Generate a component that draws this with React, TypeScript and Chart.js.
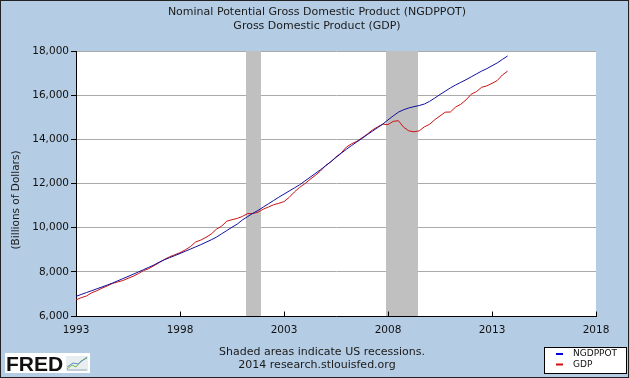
import { useEffect, useRef } from 'react';
import { Chart, registerables } from 'chart.js';

Chart.register(...registerables);

const START_YEAR = 1993;
const PERIODS_PER_YEAR = 4;

// Quarterly nominal GDP, billions of dollars, 1993Q1 .. 2013Q4
const GDP = [
  6730, 6830, 6905, 7050,
  7142, 7262, 7360, 7471,
  7543, 7604, 7706, 7800,
  7919, 8055, 8147, 8280,
  8413, 8564, 8681, 8776,
  8868, 8991, 9142, 9351,
  9438, 9562, 9711, 9931,
  10067, 10293, 10361, 10418,
  10508, 10638, 10639, 10701,
  10834, 10935, 11037, 11104,
  11180, 11371, 11617, 11824,
  11989, 12182, 12367, 12562,
  12813, 12974, 13205, 13382,
  13649, 13800, 13909, 14066,
  14234, 14423, 14565, 14686,
  14668, 14813, 14843, 14550,
  14384, 14340, 14384, 14566,
  14681, 14889, 15058, 15230,
  15238, 15461, 15587, 15785,
  16042, 16160, 16356, 16420,
  16535, 16661, 16913, 17090,
];

// Quarterly nominal potential GDP, billions of dollars, 1993Q1 .. 2013Q4
const NGDPPOT = [
  6890, 6975, 7060, 7145,
  7230, 7315, 7400, 7490,
  7590, 7690, 7790, 7890,
  7995, 8100, 8205, 8310,
  8440, 8545, 8640, 8735,
  8830, 8930, 9030, 9130,
  9230, 9340, 9450, 9570,
  9720, 9870, 10020, 10160,
  10350, 10500, 10650, 10780,
  10930, 11080, 11230, 11380,
  11520, 11660, 11800, 11940,
  12110, 12280, 12450, 12620,
  12800, 12990, 13180, 13370,
  13550, 13720, 13880, 14040,
  14210, 14370, 14530, 14690,
  14880, 15060, 15230, 15340,
  15420, 15480, 15530, 15600,
  15720, 15870, 16030, 16180,
  16330, 16460, 16580, 16700,
  16830, 16960, 17090, 17200,
  17330, 17460, 17620, 17775,
];

const X_TICKS = [1993, 1998, 2003, 2008, 2013, 2018];
const Y_TICKS = [6000, 8000, 10000, 12000, 14000, 16000, 18000];
const RECESSION_STARTS = [2001.17, 2007.92];
const RECESSION_ENDS = [2001.88, 2009.42];

const TITLE_LINES = ['Nominal Potential Gross Domestic Product (NGDPPOT)', 'Gross Domestic Product (GDP)'];
const FOOTER_LINES = ['Shaded areas indicate US recessions.', '2014 research.stlouisfed.org'];
const Y_TITLE = '(Billions of Dollars)';
const SERIES_NAMES = ['NGDPPOT', 'GDP'];
const SERIES_COLORS = ['#10109e', '#cc1414'];
const LEGEND_COLORS = ['#0000e0', '#d01010'];

const FONT = '"DejaVu Sans", Verdana, sans-serif';
const BG = '#b5cde4';

const toPoints = (vals: number[]) =>
  vals.map((v, i) => ({ x: START_YEAR + i / PERIODS_PER_YEAR, y: v }));

const decorPlugin = {
  id: 'decor',
  beforeDraw(chart: any) {
    const { ctx, chartArea } = chart;
    ctx.save();
    ctx.fillStyle = BG;
    ctx.fillRect(0, 0, chart.width, chart.height);
    ctx.fillStyle = '#ffffff';
    ctx.fillRect(chartArea.left, chartArea.top, chartArea.right - chartArea.left, chartArea.bottom - chartArea.top);
    ctx.restore();
  },
  beforeDatasetsDraw(chart: any) {
    const { ctx, chartArea, scales } = chart;
    const xs = scales.x;
    ctx.save();
    ctx.fillStyle = '#c0c0c0';
    RECESSION_STARTS.forEach((s, i) => {
      const x0 = Math.round(xs.getPixelForValue(s));
      const x1 = Math.round(xs.getPixelForValue(RECESSION_ENDS[i]));
      ctx.fillRect(x0, chartArea.top, x1 - x0, chartArea.bottom - chartArea.top);
    });
    ctx.restore();
  },
  afterDatasetsDraw(chart: any) {
    const { ctx, chartArea, scales } = chart;
    const xs = scales.x;
    ctx.save();
    ctx.strokeStyle = '#000';
    ctx.lineWidth = 1;
    const yb = Math.round(chartArea.bottom) + 0.5;
    ctx.beginPath();
    ctx.moveTo(chartArea.left, yb);
    ctx.lineTo(chartArea.right + 1, yb);
    X_TICKS.forEach((t) => {
      const x = Math.round(xs.getPixelForValue(t)) + 0.5;
      ctx.moveTo(x, yb);
      ctx.lineTo(x, yb - 5);
    });
    ctx.stroke();
    ctx.restore();
  },
  afterDraw(chart: any) {
    const { ctx } = chart;
    ctx.save();
    // titles
    ctx.fillStyle = '#1a1a1a';
    ctx.font = `11px ${FONT}`;
    ctx.textAlign = 'center';
    ctx.textBaseline = 'middle';
    ctx.fillText(TITLE_LINES[0], 317, 12);
    ctx.fillText(TITLE_LINES[1], 317, 26);
    // footer
    ctx.fillText(FOOTER_LINES[0], 322, 352);
    ctx.fillText(FOOTER_LINES[1], 317, 365);
    // y title
    ctx.save();
    ctx.translate(16, 200);
    ctx.rotate(-Math.PI / 2);
    ctx.font = `10.5px ${FONT}`;
    ctx.fillText(Y_TITLE, 0, 0);
    ctx.restore();

    // legend box
    ctx.fillStyle = '#ffffff';
    ctx.fillRect(544, 347, 82, 26);
    ctx.strokeStyle = '#000';
    ctx.lineWidth = 1;
    ctx.strokeRect(544.5, 347.5, 82, 26);
    ctx.font = `9px ${FONT}`;
    ctx.textAlign = 'left';
    SERIES_NAMES.forEach((name, i) => {
      const y = 354 + i * 10.5;
      ctx.strokeStyle = LEGEND_COLORS[i];
      ctx.lineWidth = 2;
      ctx.beginPath();
      ctx.moveTo(556, y);
      ctx.lineTo(563, y);
      ctx.stroke();
      ctx.fillStyle = '#111';
      ctx.fillText(name, 573, y);
    });

    // FRED logo
    ctx.fillStyle = '#ffffff';
    ctx.fillRect(5, 353, 85, 20);
    ctx.fillStyle = '#111';
    ctx.font = `bold 21px "Liberation Sans", Arial, sans-serif`;
    ctx.textAlign = 'left';
    ctx.textBaseline = 'alphabetic';
    ctx.fillText('FRED', 6, 371);
    // small chart icon
    ctx.fillStyle = '#e8eef0';
    ctx.fillRect(66, 356, 22, 15);
    ctx.lineWidth = 1;
    ctx.strokeStyle = '#9ab';
    ctx.beginPath();
    ctx.moveTo(67, 370);
    ctx.lineTo(87, 370);
    ctx.stroke();
    ctx.strokeStyle = '#7cb342';
    ctx.beginPath();
    ctx.moveTo(67, 369);
    ctx.lineTo(72, 365);
    ctx.lineTo(76, 367);
    ctx.lineTo(81, 361);
    ctx.lineTo(87, 358);
    ctx.stroke();
    ctx.strokeStyle = '#5b8fc9';
    ctx.beginPath();
    ctx.moveTo(67, 367);
    ctx.lineTo(73, 363);
    ctx.lineTo(78, 364);
    ctx.lineTo(87, 357);
    ctx.stroke();

    // outer border
    ctx.strokeStyle = '#222';
    ctx.lineWidth = 1;
    ctx.strokeRect(0.5, 0.5, chart.width - 2, chart.height - 1);
    ctx.restore();
  },
};

export default function App() {
  const ref = useRef<HTMLCanvasElement>(null);
  useEffect(() => {
    const canvas = ref.current;
    if (!canvas) return;
    const chart = new Chart(canvas, {
      type: 'line',
      data: {
        datasets: [
          {
            label: SERIES_NAMES[0],
            data: toPoints(NGDPPOT),
            borderColor: SERIES_COLORS[0],
            borderWidth: 1,
            pointRadius: 0,
            tension: 0,
            fill: false,
          },
          {
            label: SERIES_NAMES[1],
            data: toPoints(GDP),
            borderColor: SERIES_COLORS[1],
            borderWidth: 1,
            pointRadius: 0,
            tension: 0,
            fill: false,
          },
        ],
      },
      options: {
        responsive: false,
        animation: false,
        devicePixelRatio: 1,
        layout: { padding: { top: 51, right: 34, bottom: 0, left: 0 } },
        plugins: {
          legend: { display: false },
          title: { display: false },
          tooltip: { enabled: false },
        },
        scales: {
          x: {
            type: 'linear',
            min: X_TICKS[0],
            max: X_TICKS[X_TICKS.length - 1],
            afterBuildTicks: (scale: any) => {
              scale.ticks = X_TICKS.map((v) => ({ value: v }));
            },
            afterFit: (scale: any) => {
              scale.height = 62;
            },
            grid: { display: false, drawTicks: false },
            border: { display: false },
            ticks: {
              padding: 8,
              color: '#111',
              font: { family: FONT, size: 10.5 },
              callback: (v: any) => String(v),
              maxRotation: 0,
            },
          },
          y: {
            min: Y_TICKS[0],
            max: Y_TICKS[Y_TICKS.length - 1],
            afterBuildTicks: (scale: any) => {
              scale.ticks = Y_TICKS.map((v) => ({ value: v }));
            },
            afterFit: (scale: any) => {
              scale.width = 76;
            },
            grid: {
              color: '#aaaaaa',
              tickColor: '#000',
              tickLength: 5,
              drawTicks: true,
            },
            border: { display: true, color: '#000', width: 1 },
            ticks: {
              padding: 2,
              color: '#111',
              font: { family: FONT, size: 10.5 },
              callback: (v: any) => Number(v).toLocaleString('en-US'),
            },
          },
        },
      },
      plugins: [decorPlugin],
    });
    return () => chart.destroy();
  }, []);

  return (
    <div style={{ position: 'fixed', left: 0, top: 0, width: 630, height: 378 }}>
      <canvas ref={ref} width={630} height={378} style={{ display: 'block', width: 630, height: 378 }} />
    </div>
  );
}
